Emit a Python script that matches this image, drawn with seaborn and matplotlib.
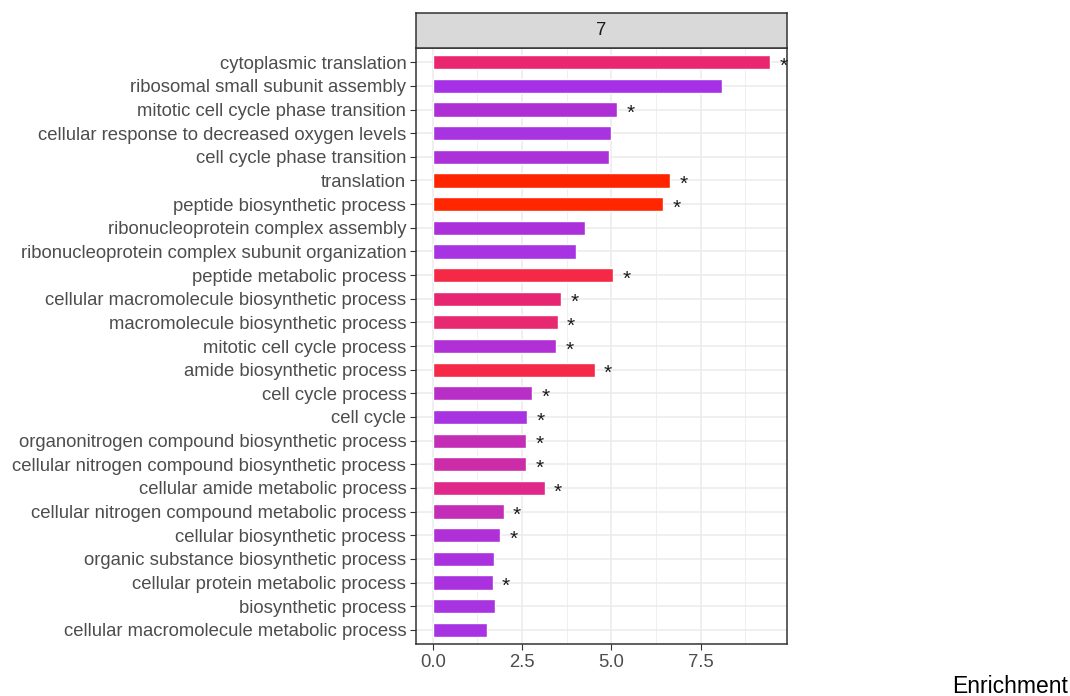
import pandas as pd
import seaborn as sns
import numpy as np
import matplotlib.pyplot as plt

# -----------------------------
# Data
# -----------------------------
terms = [
    "cytoplasmic translation",
    "ribosomal small subunit assembly",
    "mitotic cell cycle phase transition",
    "cellular response to decreased oxygen levels",
    "cell cycle phase transition",
    "translation",
    "peptide biosynthetic process",
    "ribonucleoprotein complex assembly",
    "ribonucleoprotein complex subunit organization",
    "peptide metabolic process",
    "cellular macromolecule biosynthetic process",
    "macromolecule biosynthetic process",
    "mitotic cell cycle process",
    "amide biosynthetic process",
    "cell cycle process",
    "cell cycle",
    "organonitrogen compound biosynthetic process",
    "cellular nitrogen compound biosynthetic process",
    "cellular amide metabolic process",
    "cellular nitrogen compound metabolic process",
    "cellular biosynthetic process",
    "organic substance biosynthetic process",
    "cellular protein metabolic process",
    "biosynthetic process",
    "cellular macromolecule metabolic process",
]
enrichment = [9.45, 8.10, 5.16, 5.00, 4.94, 6.65, 6.45, 4.25, 4.00, 5.06,
              3.60, 3.50, 3.45, 4.53, 2.78, 2.65, 2.61, 2.61, 3.14, 1.98,
              1.89, 1.72, 1.68, 1.73, 1.53]
significant = [True, False, True, False, False, True, True, False, False, True,
               True, True, True, True, True, True, True, True, True, True,
               True, False, True, False, False]
bar_colors = ["#EA2670", "#A530E5", "#AE30D5", "#A833E0", "#AC31D8",
              "#FF2400", "#FF2600", "#AC30DA", "#A733E3", "#F52845",
              "#E62670", "#E82870", "#B030D5", "#F52A48", "#B82FC8",
              "#A833E0", "#C42DB5", "#CC2CA8", "#E0288A", "#C42DB8",
              "#B030D8", "#AA32DE", "#AA32DE", "#A833E0", "#A733E2"]
panel_label = "7"

df = pd.DataFrame({"term": terms, "enrichment": enrichment, "sig": significant})

# -----------------------------
# Style
# -----------------------------
sns.set_style("white")
plt.rcParams["font.family"] = ["Liberation Sans", "DejaVu Sans"]

fig = plt.figure(figsize=(10.7, 6.96), dpi=100)
ax = fig.add_axes([0.3888, 0.0747, 0.3467, 0.8563])

sns.barplot(
    data=df, x="enrichment", y="term", hue="term",
    palette=bar_colors, legend=False, orient="h",
    width=0.6, saturation=1, ax=ax, zorder=3
)

# stars next to significant bars (nudged down so the glyph sits on the bar centre)
for i, row in df.iterrows():
    if row["sig"]:
        ax.text(row["enrichment"] + 0.37, i + 0.17, "*", ha="center", va="center",
                fontsize=15, color="#1A1A1A", clip_on=False, zorder=4)

xmax = max(enrichment)
ax.set_xlim(-0.05 * xmax, 1.05 * xmax)
ax.set_ylim(len(terms) - 0.4, -0.6)

# ggplot theme_bw grid
ax.set_xticks([0, 2.5, 5.0, 7.5])
ax.set_xticklabels(["0.0", "2.5", "5.0", "7.5"])
ax.set_xticks([1.25, 3.75, 6.25, 8.75], minor=True)
ax.grid(which="major", color="#EBEBEB", linewidth=1.1, zorder=0)
ax.grid(which="minor", axis="x", color="#EBEBEB", linewidth=0.55, zorder=0)
ax.set_axisbelow(True)

ax.tick_params(axis="both", which="major", length=4, width=0.8, color="#333333",
               labelsize=13.3, labelcolor="#4D4D4D", pad=3, left=True, bottom=True)
ax.tick_params(axis="both", which="minor", length=0)
ax.set_xlabel("")
ax.set_ylabel("")
for s in ax.spines.values():
    s.set_color("#333333")
    s.set_linewidth(1.1)

# facet strip
strip = fig.add_axes([0.3888, 0.931, 0.3467, 0.0503])
strip.set_xticks([])
strip.set_yticks([])
strip.set_facecolor("#D9D9D9")
for s in strip.spines.values():
    s.set_color("#333333")
    s.set_linewidth(1.1)
strip.text(0.5, 0.5, panel_label, ha="center", va="center", fontsize=13.3,
           color="#1A1A1A", transform=strip.transAxes)

fig.text(1010 / 1070, 1 - 693 / 696, "Enrichment", ha="center", va="baseline",
         fontsize=16.5, color="black")

plt.savefig("out.png", dpi=100)
plt.close()
